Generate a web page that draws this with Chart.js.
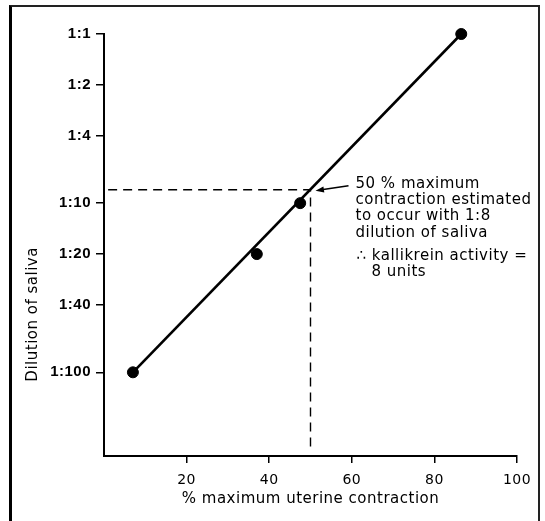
<!DOCTYPE html>
<html>
<head>
<meta charset="utf-8">
<script src="https://cdn.jsdelivr.net/npm/chart.js@4"></script>
<style>
  body { margin: 0; background: #fff; }
  #wrap { position: relative; width: 545px; height: 521px; overflow: hidden; background: #fff; }
  #frame { position: absolute; left: 9px; top: 5px; width: 526px; height: 540px;
           border-left: 3px solid #000; border-top: 2px solid #222; border-right: 2px solid #222; }
  canvas { position: absolute; left: 0; top: 0; }
</style>
</head>
<body>
<div id="wrap">
  <div id="frame"></div>
  <canvas id="myChart" width="545" height="521"></canvas>
</div>
<script>
// measured points: % max uterine contraction vs dilution (as fraction 1/n)
var contraction = [7, 37, 47.5, 86.5];
var dilution = [0.01, 0.05, 0.1, 1];
// fitted straight line
var fitX = [7, 86.5];
var fitY = [0.01, 1];
// 50% read-off
var halfX = [1, 50, 50];
var halfY = [0.12, 0.12, 0.0034];
var xTicks = [20, 40, 60, 80, 100];
var yTicks = [1, 0.5, 0.25, 0.1, 0.05, 0.025, 0.01];
var note1 = ["50 % maximum", "contraction estimated", "to occur with 1:8", "dilution of saliva"];
var note2 = ["\u2234 kallikrein activity =", "8 units"];

function pts(xs, ys) {
    return xs.map(function (x, i) { return { x: x, y: ys[i] }; });
}

var notes = {
    id: 'notes',
    beforeDraw: function (chart) {
        chart.ctx.letterSpacing = '0.5px';
    },
    afterDraw: function (chart) {
        var ctx = chart.ctx;
        var xs = chart.scales.x, ys = chart.scales.y;
        ctx.save();
        ctx.fillStyle = '#000';
        ctx.strokeStyle = '#000';
        ctx.letterSpacing = '0.5px';
        ctx.font = '15px "DejaVu Sans"';

        // y axis title (sits low on the axis in the original)
        ctx.save();
        ctx.translate(33, ys.getPixelForValue(0.022));
        ctx.rotate(-Math.PI / 2);
        ctx.textAlign = 'center';
        ctx.textBaseline = 'middle';
        ctx.fillText('Dilution of saliva', 0, 0);
        ctx.restore();

        // note text beside the read-off point
        var px = xs.getPixelForValue(halfX[1]);
        var py = ys.getPixelForValue(halfY[1]);
        ctx.textAlign = 'left';
        ctx.textBaseline = 'middle';
        note1.forEach(function (t, i) {
            ctx.fillText(t, px + 45, py - 6 + i * 16.3);
        });
        ctx.fillText(note2[0], px + 46, py + 66);
        ctx.fillText(note2[1], px + 61, py + 82);

        // arrow to the crossing
        var tipX = px + 5, tipY = py + 1;
        var tailX = px + 38, tailY = py - 4;
        ctx.lineWidth = 1.5;
        ctx.beginPath();
        ctx.moveTo(tailX, tailY);
        ctx.lineTo(tipX + 6, tipY - 1);
        ctx.stroke();
        var a = Math.atan2(tipY - tailY, tipX - tailX);
        ctx.beginPath();
        ctx.moveTo(tipX, tipY);
        ctx.lineTo(tipX - 9 * Math.cos(a - 0.35), tipY - 9 * Math.sin(a - 0.35));
        ctx.lineTo(tipX - 9 * Math.cos(a + 0.35), tipY - 9 * Math.sin(a + 0.35));
        ctx.closePath();
        ctx.fill();
        ctx.restore();
    }
};

new Chart("myChart", {
    type: "scatter",
    data: {
        datasets: [{
            data: pts(contraction, dilution),
            backgroundColor: "#000",
            borderColor: "#000",
            pointRadius: 5.5,
            pointHoverRadius: 5.5,
            clip: false
        }, {
            data: pts(fitX, fitY),
            showLine: true,
            borderColor: "#000",
            borderWidth: 2.6,
            pointRadius: 0,
            clip: false
        }, {
            data: pts(halfX, halfY),
            showLine: true,
            borderColor: "#000",
            borderWidth: 1.4,
            borderDash: [9, 6],
            pointRadius: 0
        }]
    },
    options: {
        responsive: false,
        animation: false,
        events: [],
        layout: { padding: { left: 0, top: 34, right: 28, bottom: 13 } },
        plugins: {
            legend: { display: false },
            tooltip: { enabled: false }
        },
        scales: {
            x: {
                type: "linear",
                min: 0,
                max: 100,
                afterBuildTicks: function (scale) {
                    scale.ticks = xTicks.map(function (v) { return { value: v }; });
                },
                afterFit: function (scale) { scale.height = 52; },
                border: { display: true, color: "#000", width: 2 },
                grid: { display: true, drawOnChartArea: false, drawTicks: true, tickLength: 7, color: "#000", lineWidth: 1.5 },
                ticks: {
                    color: "#000",
                    padding: 9,
                    maxRotation: 0,
                    font: { family: "DejaVu Sans", size: 14 }
                },
                title: {
                    display: true,
                    text: "% maximum uterine contraction",
                    color: "#000",
                    padding: 0,
                    font: { family: "DejaVu Sans", size: 15 }
                }
            },
            y: {
                type: "logarithmic",
                min: 0.0032,
                max: 1,
                afterBuildTicks: function (scale) {
                    scale.ticks = yTicks.map(function (v) { return { value: v }; });
                },
                afterFit: function (scale) { scale.width = 104; },
                border: { display: true, color: "#000", width: 2 },
                grid: { display: true, drawOnChartArea: false, drawTicks: true, tickLength: 8, color: "#000", lineWidth: 1.5 },
                ticks: {
                    color: "#000",
                    padding: 5,
                    autoSkip: false,
                    font: { family: "Liberation Sans", size: 15, weight: "bold" },
                    callback: function (v) { return "1:" + Math.round(1 / v); }
                }
            }
        }
    },
    plugins: [notes]
});
</script>
</body>
</html>
